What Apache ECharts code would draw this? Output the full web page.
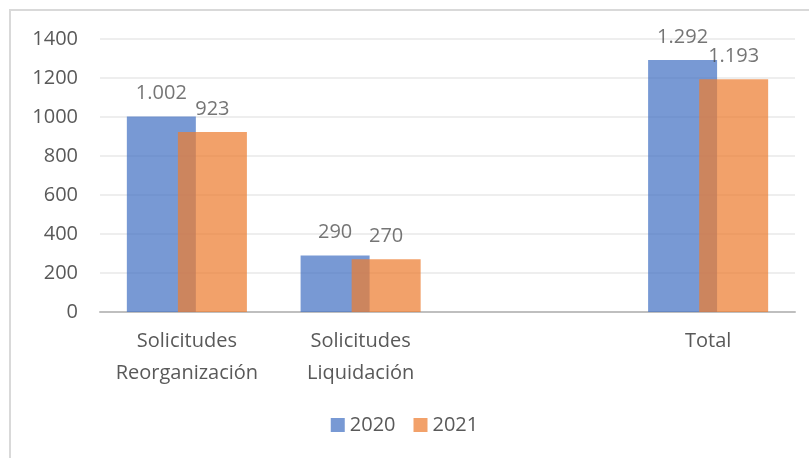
<!DOCTYPE html>
<html><head><meta charset="utf-8">
<script src="https://cdn.jsdelivr.net/npm/echarts@6/dist/echarts.min.js"></script>
<style>
html,body{margin:0;padding:0;background:#fff;overflow:hidden;}
#frame{position:absolute;left:9px;top:9px;width:820px;height:470px;border:2px solid #d9d9d9;box-sizing:border-box;}
#c{position:absolute;left:0;top:0;width:809px;height:458px;}
</style></head>
<body>
<div id="frame"></div>
<div id="c"></div>
<script>
const categories = ['Solicitudes\nReorganización', 'Solicitudes\nLiquidación', '', 'Total'];
const values2020 = [1002, 290, null, 1292];
const values2021 = [923, 270, null, 1193];
const yTicks = [0, 200, 400, 600, 800, 1000, 1200, 1400];

const fmt = v => String(v).replace(/\B(?=(\d{3})+(?!\d))/g, '.');
const font = 'Open Sans';
const chart = echarts.init(document.getElementById('c'));
chart.setOption({
  animation: false,
  textStyle: {fontFamily: font},
  grid: {left: 100, right: 14, top: 39, bottom: 146},
  legend: {
    bottom: 18, left: 'center', itemWidth: 14, itemHeight: 14, itemGap: 18,
    icon: 'rect',
    textStyle: {fontFamily: font, fontSize: 20, color: '#595959'},
    data: ['2020', '2021']
  },
  xAxis: {
    type: 'category', data: categories,
    axisLine: {lineStyle: {color: '#bfbfbf', width: 2}},
    axisTick: {show: false},
    axisLabel: {fontFamily: font, fontSize: 20, color: '#595959', lineHeight: 32, margin: 13, interval: 0}
  },
  yAxis: {
    type: 'value', min: yTicks[0], max: yTicks[yTicks.length - 1], interval: 200,
    axisLine: {show: false}, axisTick: {show: false},
    splitLine: {lineStyle: {color: '#e9e9e9', width: 1.5}},
    axisLabel: {fontFamily: font, fontSize: 20, color: '#595959', margin: 22, formatter: v => String(v)}
  },
  series: [
    {
      name: '2020', type: 'bar', data: values2020, barWidth: 69, barGap: '-26%',
      itemStyle: {color: '#4472c4', opacity: 0.72},
      label: {show: true, position: 'top', distance: 13, fontFamily: font, fontSize: 20, color: '#404040',
        formatter: p => fmt(p.value)}
    },
    {
      name: '2021', type: 'bar', data: values2021, barWidth: 69,
      itemStyle: {color: '#ed7d31', opacity: 0.72},
      label: {show: true, position: 'top', distance: 13, fontFamily: font, fontSize: 20, color: '#404040',
        formatter: p => fmt(p.value)}
    }
  ]
});
</script>
</body></html>
